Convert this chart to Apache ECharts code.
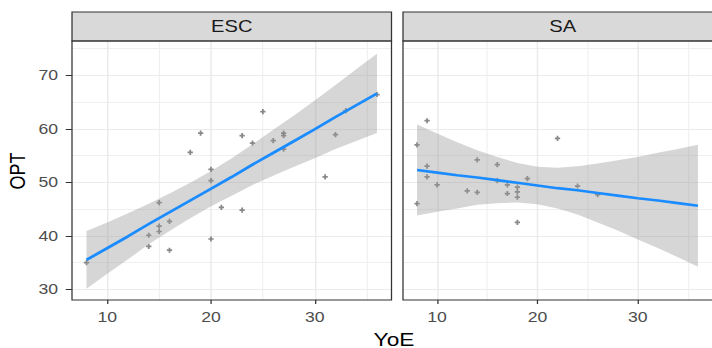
<!DOCTYPE html>
<html><head><meta charset="utf-8">
<script src="https://cdn.jsdelivr.net/npm/echarts@6/dist/echarts.min.js"></script>
<style>
html,body{margin:0;padding:0;background:#fff;overflow:hidden}
#wrap{width:712px;height:348px;overflow:hidden;position:relative}
#chart{width:565px;height:348px;transform:scaleX(1.26018);transform-origin:0 0}
</style></head>
<body><div id="wrap"><div id="chart"></div></div>
<script>
// ---- data ----
const panels = ['ESC', 'SA'];
const escX = [8,14,14,15,15,15,16,16,18,19,20,20,20,21,23,23,24,25,26,27,27,27,31,32,33,36];
const escY = [35.0,38.0,40.1,46.2,41.8,40.8,42.7,37.3,55.6,59.2,52.4,50.3,39.4,45.3,58.7,44.8,57.3,63.2,57.8,59.2,58.7,56.2,51.0,58.9,63.4,66.4];
const saX = [8,8,9,9,9,10,13,14,14,16,16,17,17,18,18,18,18,19,22,24,26];
const saY = [57.0,46.0,61.5,53.0,51.0,49.5,48.4,54.2,48.1,53.3,50.3,49.5,47.9,49.1,48.2,47.2,42.5,50.7,58.2,49.3,47.7];
// smooth (lm) line and its confidence band, read at these x positions
const fitX = [8,10,12,14,16,18,20,22,24,26,28,30,32,34,36];
const escFit   = [35.5,37.7,39.9,42.2,44.4,46.6,48.8,51.0,53.3,55.5,57.7,59.9,62.2,64.4,66.6];
const escLower = [30.1,32.9,35.6,38.4,40.9,43.3,45.5,47.5,49.5,51.2,52.9,54.5,56.2,57.7,59.2];
const escUpper = [40.9,42.5,44.2,46.0,47.9,49.9,52.1,54.5,57.1,59.8,62.5,65.3,68.2,71.1,74.0];
const saFit    = [52.3,51.8,51.3,50.9,50.4,49.9,49.4,48.9,48.5,48.0,47.5,47.0,46.6,46.1,45.6];
const saLower  = [43.8,44.5,45.1,45.8,46.1,46.2,45.9,45.1,44.0,42.5,41.0,39.3,37.7,36.0,34.2];
const saUpper  = [60.8,59.1,57.5,56.0,54.7,53.6,52.9,52.7,53.0,53.5,54.1,54.7,55.5,56.2,57.0];
const xTicks = [10, 20, 30];
const yTicks = [30, 40, 50, 60, 70];
const xTitle = 'YoE';
const yTitle = 'OPT';

// ---- layout (chart drawn in a horizontally compressed frame, then stretched) ----
const S = 712 / 565;
const px = v => v / S;
const FONT = '"Liberation Sans", Arial, sans-serif';
const grids = [
  {left: px(72), top: 41, width: px(319.5), height: 259},
  {left: px(403), top: 41, width: px(319.5), height: 259}
];
const zip = (a, b) => a.map((v, i) => [v, b[i]]);

function xAxisCfg(gi) {
  return {
    type: 'value', gridIndex: gi, min: 6.6, max: 37.4, minInterval: 10, maxInterval: 10,
    axisLine: {show: false},
    axisTick: {show: true, length: 4, customValues: xTicks, lineStyle: {color: '#333333', width: 1}},
    axisLabel: {show: true, customValues: xTicks, margin: 10, fontSize: 14, color: '#4D4D4D', fontFamily: FONT},
    splitLine: {show: true, lineStyle: {color: '#EBEBEB', width: 1.2}},
    minorTick: {show: false, splitNumber: 2},
    minorSplitLine: {show: true, lineStyle: {color: '#EFEFEF', width: 0.9}}
  };
}
function yAxisCfg(gi) {
  return {
    type: 'value', gridIndex: gi, min: 28.0, max: 76.4, minInterval: 10, maxInterval: 10,
    axisLine: {show: false},
    axisTick: {show: gi === 0, length: 5, customValues: yTicks, lineStyle: {color: '#333333', width: 1}},
    axisLabel: {show: gi === 0, customValues: yTicks, margin: 11, fontSize: 14, color: '#4D4D4D', fontFamily: FONT},
    splitLine: {show: true, lineStyle: {color: '#EBEBEB', width: 1.2}},
    minorTick: {show: false, splitNumber: 2},
    minorSplitLine: {show: true, lineStyle: {color: '#EFEFEF', width: 0.9}}
  };
}
const plusPath = 'path://M2,0H4V2H6V4H4V6H2V4H0V2H2Z';

function ribbon(gi, lower, upper) {
  return {
    type: 'custom', xAxisIndex: gi, yAxisIndex: gi, z: 3, silent: true,
    data: [[fitX[0], upper[0]]],
    renderItem: function (params, api) {
      const pts = [];
      for (let i = 0; i < fitX.length; i++) pts.push(api.coord([fitX[i], upper[i]]));
      for (let i = fitX.length - 1; i >= 0; i--) pts.push(api.coord([fitX[i], lower[i]]));
      return {type: 'polygon', shape: {points: pts}, style: {fill: 'rgba(153,153,153,0.4)'}};
    }
  };
}
function points(gi, xs, ys) {
  return {type: 'scatter', xAxisIndex: gi, yAxisIndex: gi, z: 2, data: zip(xs, ys),
    symbol: plusPath, symbolSize: [4.2, 5.2], itemStyle: {color: '#6A6A6A'}};
}
function fitLine(gi, ys) {
  return {type: 'line', xAxisIndex: gi, yAxisIndex: gi, z: 4, data: zip(fitX, ys),
    showSymbol: false, symbol: 'none', lineStyle: {color: '#1A8CFF', width: 2.6}};
}

const graphics = [];
panels.forEach((name, i) => {
  const g = grids[i];
  graphics.push({type: 'rect', shape: {x: g.left, y: 12, width: g.width, height: 29},
    style: {fill: '#D9D9D9', stroke: '#333333', lineWidth: 1}, z: 10});
  graphics.push({type: 'text', x: g.left + g.width / 2, y: 27, z: 11,
    style: {text: name, fontSize: 16, fontFamily: FONT, fill: '#1A1A1A', align: 'center', verticalAlign: 'middle'}});
  graphics.push({type: 'rect', shape: {x: g.left, y: g.top, width: g.width, height: g.height},
    style: {fill: 'none', stroke: '#333333', lineWidth: 1}, z: 10});
});
graphics.push({type: 'text', x: px(394), y: 339, z: 11,
  style: {text: xTitle, fontSize: 18, fontFamily: FONT, fill: '#000000', align: 'center', verticalAlign: 'middle'}});
graphics.push({type: 'text', x: px(16.5), y: 171, rotation: Math.PI / 2, z: 11,
  style: {text: yTitle, fontSize: 18, fontFamily: FONT, fill: '#000000', align: 'center', verticalAlign: 'middle'}});

const chart = echarts.init(document.getElementById('chart'), null, {renderer: 'svg'});
chart.setOption({
  animation: false,
  backgroundColor: '#ffffff',
  grid: grids.map(g => Object.assign({containLabel: false, show: false}, g)),
  xAxis: [xAxisCfg(0), xAxisCfg(1)],
  yAxis: [yAxisCfg(0), yAxisCfg(1)],
  series: [
    points(0, escX, escY), ribbon(0, escLower, escUpper), fitLine(0, escFit),
    points(1, saX, saY), ribbon(1, saLower, saUpper), fitLine(1, saFit)
  ],
  graphic: graphics
});
</script>
</body></html>
